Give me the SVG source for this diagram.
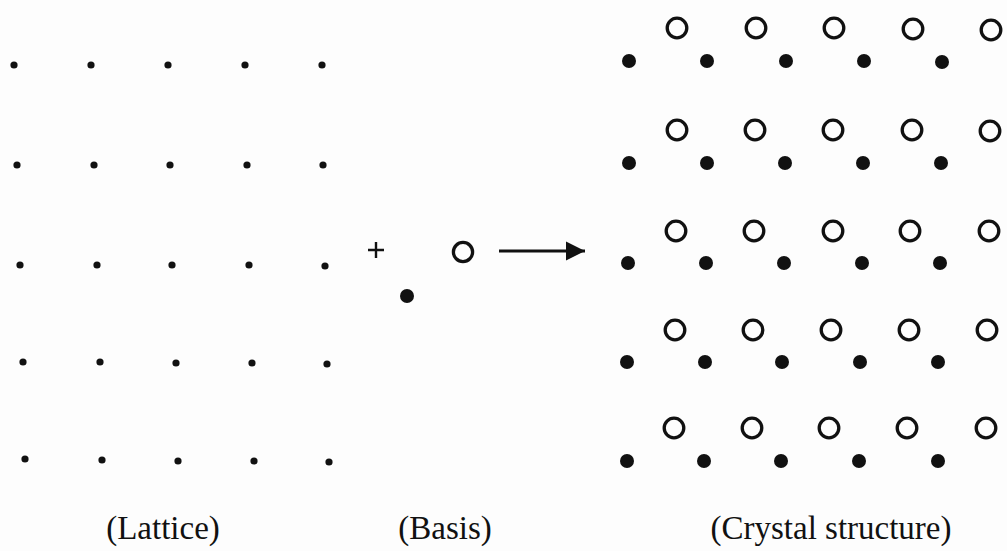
<svg xmlns="http://www.w3.org/2000/svg" width="1007" height="551" viewBox="0 0 1007 551">
<style>
.lp{fill:#111}
.fd{fill:#111}
.oc{fill:none;stroke:#111;stroke-width:3.3}
.lbl{font-family:"Liberation Serif","Times New Roman",serif;font-size:33px;fill:#111;text-anchor:middle}
</style>
<defs>
<marker id="ah" viewBox="0 0 10 10" refX="10" refY="5" markerWidth="6.5" markerHeight="6.5" markerUnits="strokeWidth" orient="auto">
<path d="M0,0 L10,5 L0,10 Z" fill="#111"/>
</marker>
</defs>
<rect width="1007" height="551" fill="#fdfdfd"/>
<g id="lattice">
<circle class="lp" cx="14" cy="65" r="3.6"/><circle class="lp" cx="91" cy="65" r="3.6"/><circle class="lp" cx="168" cy="65" r="3.6"/><circle class="lp" cx="245" cy="65" r="3.6"/><circle class="lp" cx="322" cy="65" r="3.6"/>
<circle class="lp" cx="17" cy="165" r="3.6"/><circle class="lp" cx="94" cy="165" r="3.6"/><circle class="lp" cx="170" cy="165" r="3.6"/><circle class="lp" cx="247" cy="165" r="3.6"/><circle class="lp" cx="323" cy="165" r="3.6"/>
<circle class="lp" cx="20" cy="265" r="3.6"/><circle class="lp" cx="97" cy="265" r="3.6"/><circle class="lp" cx="172" cy="265" r="3.6"/><circle class="lp" cx="249" cy="265" r="3.6"/><circle class="lp" cx="325" cy="266" r="3.6"/>
<circle class="lp" cx="23" cy="362" r="3.6"/><circle class="lp" cx="100" cy="362" r="3.6"/><circle class="lp" cx="176" cy="363" r="3.6"/><circle class="lp" cx="252" cy="363" r="3.6"/><circle class="lp" cx="327" cy="364" r="3.6"/>
<circle class="lp" cx="25" cy="459" r="3.6"/><circle class="lp" cx="102" cy="460" r="3.6"/><circle class="lp" cx="178" cy="461" r="3.6"/><circle class="lp" cx="254" cy="461" r="3.6"/><circle class="lp" cx="329" cy="462" r="3.6"/>
</g>
<g id="plus">
<path d="M368,250 H384 M376,242 V258" stroke="#111" stroke-width="2.4" fill="none"/>
</g>
<g id="basis">
<circle class="oc" cx="463" cy="252" r="9.6"/>
<circle class="fd" cx="407" cy="296" r="7"/>
</g>
<g id="connectors">
<line x1="499" y1="251" x2="585" y2="251" stroke="#111" stroke-width="3" marker-end="url(#ah)"/>
</g>
<g id="crystal">
<circle class="oc" cx="677" cy="28" r="9.8"/><circle class="oc" cx="756" cy="28" r="9.8"/><circle class="oc" cx="834" cy="28" r="9.8"/><circle class="oc" cx="913" cy="29" r="9.8"/><circle class="oc" cx="991" cy="30" r="9.8"/>
<circle class="fd" cx="629" cy="61" r="7"/><circle class="fd" cx="707" cy="61" r="7"/><circle class="fd" cx="786" cy="61" r="7"/><circle class="fd" cx="864" cy="61" r="7"/><circle class="fd" cx="942" cy="62" r="7"/>
<circle class="oc" cx="677" cy="130" r="9.8"/><circle class="oc" cx="755" cy="130" r="9.8"/><circle class="oc" cx="833" cy="130" r="9.8"/><circle class="oc" cx="912" cy="130" r="9.8"/><circle class="oc" cx="990" cy="131" r="9.8"/>
<circle class="fd" cx="629" cy="163" r="7"/><circle class="fd" cx="707" cy="163" r="7"/><circle class="fd" cx="785" cy="163" r="7"/><circle class="fd" cx="863" cy="163" r="7"/><circle class="fd" cx="941" cy="163" r="7"/>
<circle class="oc" cx="676" cy="231" r="9.8"/><circle class="oc" cx="754" cy="231" r="9.8"/><circle class="oc" cx="833" cy="231" r="9.8"/><circle class="oc" cx="910" cy="231" r="9.8"/><circle class="oc" cx="989" cy="231" r="9.8"/>
<circle class="fd" cx="628" cy="263" r="7"/><circle class="fd" cx="706" cy="263" r="7"/><circle class="fd" cx="784" cy="263" r="7"/><circle class="fd" cx="862" cy="263" r="7"/><circle class="fd" cx="940" cy="263" r="7"/>
<circle class="oc" cx="675" cy="330" r="9.8"/><circle class="oc" cx="753" cy="330" r="9.8"/><circle class="oc" cx="831" cy="330" r="9.8"/><circle class="oc" cx="909" cy="330" r="9.8"/><circle class="oc" cx="987" cy="330" r="9.8"/>
<circle class="fd" cx="627" cy="362" r="7"/><circle class="fd" cx="705" cy="362" r="7"/><circle class="fd" cx="782" cy="362" r="7"/><circle class="fd" cx="860" cy="362" r="7"/><circle class="fd" cx="938" cy="362" r="7"/>
<circle class="oc" cx="674" cy="428" r="9.8"/><circle class="oc" cx="752" cy="428" r="9.8"/><circle class="oc" cx="829" cy="428" r="9.8"/><circle class="oc" cx="907" cy="428" r="9.8"/><circle class="oc" cx="986" cy="428" r="9.8"/>
<circle class="fd" cx="627" cy="461" r="7"/><circle class="fd" cx="704" cy="461" r="7"/><circle class="fd" cx="781" cy="461" r="7"/><circle class="fd" cx="859" cy="461" r="7"/><circle class="fd" cx="938" cy="461" r="7"/>
</g>
<g id="labels">
<text class="lbl" x="163" y="539">(Lattice)</text>
<text class="lbl" x="445" y="539">(Basis)</text>
<text class="lbl" x="831" y="539">(Crystal structure)</text>
</g>
</svg>
